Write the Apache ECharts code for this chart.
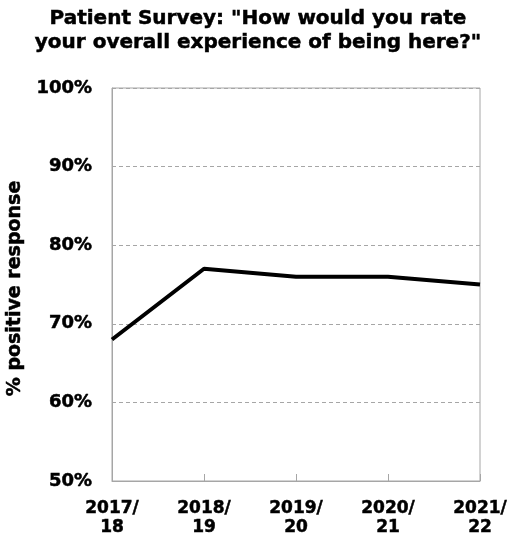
<!DOCTYPE html>
<html><head><meta charset="utf-8">
<script src="https://cdn.jsdelivr.net/npm/echarts@6/dist/echarts.min.js"></script>
<style>html,body{margin:0;padding:0;background:#fff}#c{width:507px;height:536px}</style>
</head><body><div id="c"></div>
<script>
var categories = ["2017/\n18", "2018/\n19", "2019/\n20", "2020/\n21", "2021/\n22"];
var values = [68, 77, 76, 76, 75];
var titleText = 'Patient Survey: "How would you rate\nyour overall experience of being here?"';
var yName = "% positive response";

var FONT = 'DejaVu Sans';
var chart = echarts.init(document.getElementById('c'));
chart.setOption({
  animation: false,
  graphic: [{
    type: 'text', x: 258, y: 7,
    style: { text: titleText, align: 'center', verticalAlign: 'top', font: 'bold 20px "DejaVu Sans"', lineHeight: 24, fill: '#000', stroke: '#000', lineWidth: 0.5 }
  }],
  grid: { left: 112, right: 27, top: 88, bottom: 55, show: true, borderColor: '#a6a6a6', borderWidth: 1, containLabel: false, outerBoundsMode: 'none' },
  xAxis: {
    type: 'category', data: categories, boundaryGap: false,
    axisLine: { show: true, lineStyle: { color: '#a6a6a6' } },
    axisTick: { show: true, inside: true, length: 7, lineStyle: { color: '#a6a6a6' } },
    axisLabel: { color: '#000', fontFamily: FONT, fontWeight: 'bold', fontSize: 17, lineHeight: 19, margin: 18, interval: 0, textBorderColor: '#000', textBorderWidth: 0.5, hideOverlap: false }
  },
  yAxis: {
    type: 'value', min: 50, max: 100, interval: 10,
    name: yName, nameLocation: 'middle', nameGap: 81, nameRotate: 90,
    nameTextStyle: { color: '#000', fontFamily: FONT, fontWeight: 'bold', fontSize: 19, textBorderColor: '#000', textBorderWidth: 0.5, padding: [0, 8, 0, 0] },
    axisLine: { show: true, lineStyle: { color: '#a6a6a6' } },
    axisTick: { show: false },
    axisLabel: { color: '#000', fontFamily: FONT, fontWeight: 'bold', fontSize: 18, margin: 20, formatter: '{value}%', textBorderColor: '#000', textBorderWidth: 0.5 },
    splitLine: { show: true, lineStyle: { color: '#a6a6a6', type: [4, 3] } }
  },
  series: [{
    type: 'line', data: values, symbol: 'none',
    lineStyle: { color: '#000', width: 4 }
  }]
});
</script></body></html>
